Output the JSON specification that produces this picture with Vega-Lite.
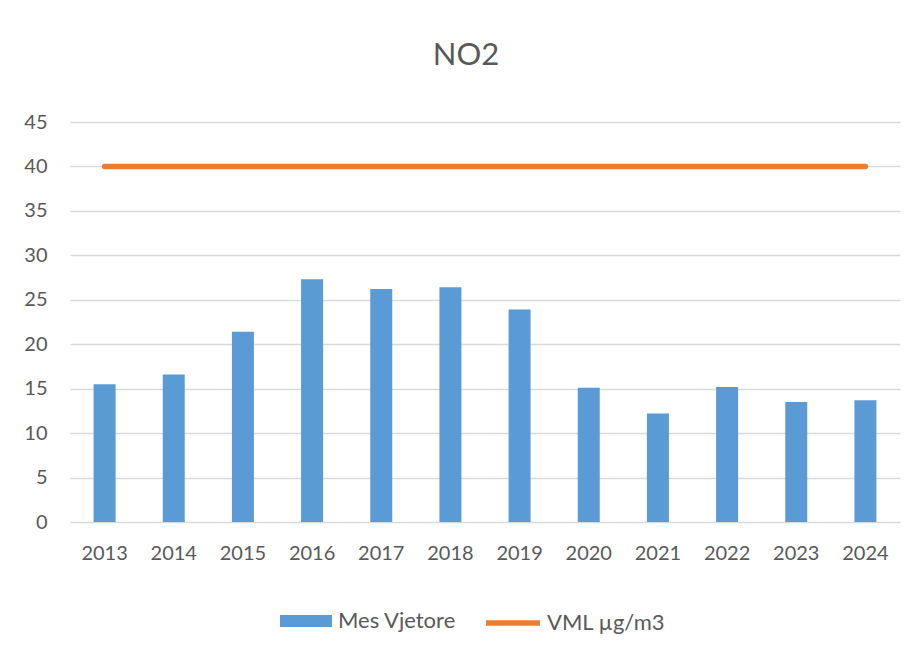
{
  "$schema": "https://vega.github.io/schema/vega-lite/v6.json",
  "autosize": "none",
  "width": 830,
  "height": 400,
  "padding": {"left": 70, "top": 122, "right": 15, "bottom": 131},
  "background": "white",
  "config": {
    "view": {"stroke": null},
    "font": "Lato",
    "axis": {"labelFont": "Lato", "labelFontSize": 20, "labelColor": "#595959", "ticks": false, "domain": false, "title": null},
    "legend": {"labelFont": "Lato", "labelFontSize": 22, "labelColor": "#595959", "title": null}
  },
  "title": {"text": "NO2", "font": "Lato", "fontSize": 31, "fontWeight": "normal", "color": "#595959", "anchor": "middle", "dx": -19, "offset": 16, "baseline": "alphabetic"},
  "data": {"values": [
    {"year": "2013", "mes": 15.5, "vml": 40},
    {"year": "2014", "mes": 16.6, "vml": 40},
    {"year": "2015", "mes": 21.4, "vml": 40},
    {"year": "2016", "mes": 27.3, "vml": 40},
    {"year": "2017", "mes": 26.2, "vml": 40},
    {"year": "2018", "mes": 26.4, "vml": 40},
    {"year": "2019", "mes": 23.9, "vml": 40},
    {"year": "2020", "mes": 15.1, "vml": 40},
    {"year": "2021", "mes": 12.2, "vml": 40},
    {"year": "2022", "mes": 15.2, "vml": 40},
    {"year": "2023", "mes": 13.5, "vml": 40},
    {"year": "2024", "mes": 13.7, "vml": 40}
  ]},
  "encoding": {
    "x": {"field": "year", "type": "nominal", "sort": null, "scale": {"paddingInner": 0, "paddingOuter": 0}, "axis": {"labelAngle": 0, "labelPadding": 21, "grid": false}}
  },
  "layer": [
    {
      "mark": {"type": "bar", "size": 22},
      "encoding": {
        "y": {"field": "mes", "type": "quantitative", "scale": {"domain": [0, 45]}, "axis": {"values": [0,5,10,15,20,25,30,35,40,45], "gridColor": "#d9d9d9", "gridWidth": 1.3, "labelPadding": 23}},
        "fill": {"datum": "Mes Vjetore", "type": "nominal", "scale": {"range": ["#5b9bd5"]}, "legend": {"orient": "none", "legendX": 210, "legendY": 473, "symbolType": "M-1,-0.23H1V0.23H-1Z", "symbolSize": 2704, "symbolStrokeWidth": 0, "symbolOpacity": 1, "labelOffset": 6}}
      }
    },
    {
      "mark": {"type": "line", "strokeWidth": 5.5, "strokeCap": "round"},
      "encoding": {
        "y": {"field": "vml", "type": "quantitative"},
        "stroke": {"datum": "VML µg/m3", "type": "nominal", "scale": {"range": ["#ed7d31"]}, "legend": {"orient": "none", "legendX": 413, "legendY": 471, "symbolType": "stroke", "symbolSize": 2916, "symbolStrokeWidth": 5.5, "labelOffset": 4}}
      }
    }
  ]
}
